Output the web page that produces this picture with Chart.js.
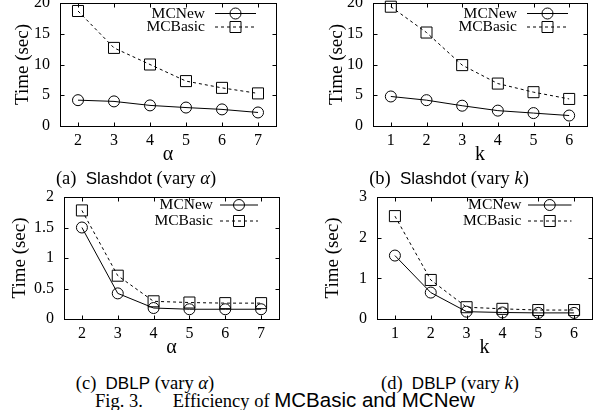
<!DOCTYPE html>
<html><head><meta charset="utf-8">
<script src="https://cdn.jsdelivr.net/npm/chart.js@4"></script>
<style>
html,body{margin:0;padding:0;background:#fff;}
body{width:599px;height:410px;position:relative;overflow:hidden;}
canvas{position:absolute;}
.cap{position:absolute;white-space:nowrap;font-family:"Liberation Serif","Times New Roman",serif;font-size:18.5px;color:#000;transform:translate(-50%,-50%);line-height:1;}
.sans{font-family:"Liberation Sans",Arial,sans-serif;font-size:17px;}
.fig{position:absolute;white-space:nowrap;font-family:"Liberation Serif","Times New Roman",serif;font-size:18.5px;color:#000;transform:translateY(-50%);line-height:1;}
.fig .sans{font-size:20.5px;}
</style></head><body>
<canvas id="ca" width="300" height="170" style="left:0;top:0;width:300px;height:170px"></canvas>
<canvas id="cb" width="299" height="170" style="left:300px;top:0;width:299px;height:170px"></canvas>
<canvas id="cc" width="300" height="180" style="left:0;top:185px;width:300px;height:180px"></canvas>
<canvas id="cd" width="299" height="180" style="left:300px;top:185px;width:299px;height:180px"></canvas>
<div class="cap" style="left:136px;top:178px">(a)&nbsp;&nbsp;<span class="sans">Slashdot</span> (vary <i>α</i>)</div>
<div class="cap" style="left:449px;top:178px">(b)&nbsp;&nbsp;<span class="sans">Slashdot</span> (vary <i>k</i>)</div>
<div class="cap" style="left:145px;top:383px">(c)&nbsp;&nbsp;<span class="sans">DBLP</span> (vary <i>α</i>)</div>
<div class="cap" style="left:450px;top:383px">(d)&nbsp;&nbsp;<span class="sans">DBLP</span> (vary <i>k</i>)</div>
<div class="fig" style="left:95px;top:400px">Fig. 3.<span style="display:inline-block;width:30px"></span>Efficiency of <span class="sans">MCBasic and MCNew</span></div>
<script>
// ---- data ----
const seriesNames = ['MCNew', 'MCBasic'];
const alphaCats = ['2', '3', '4', '5', '6', '7'];
const kCats = ['1', '2', '3', '4', '5', '6'];
const slashAlphaNew = [4.2, 4.0, 3.35, 3.0, 2.7, 2.2];
const slashAlphaBasic = [18.7, 12.7, 10.0, 7.3, 6.2, 5.3];
const slashKNew = [4.8, 4.2, 3.3, 2.5, 2.1, 1.7];
const slashKBasic = [19.4, 15.2, 9.9, 6.9, 5.5, 4.4];
const dblpAlphaNew = [1.5, 0.42, 0.18, 0.16, 0.16, 0.16];
const dblpAlphaBasic = [1.78, 0.71, 0.29, 0.27, 0.26, 0.26];
const dblpKNew = [1.56, 0.65, 0.18, 0.16, 0.15, 0.15];
const dblpKBasic = [2.53, 0.96, 0.29, 0.25, 0.22, 0.22];
const yTicksSlash = [0, 5, 10, 15, 20];
const yTicksDblpAlpha = [0, 0.5, 1, 1.5, 2];
const yTicksDblpK = [0, 0.5, 1, 1.5, 2, 2.5, 3];
const xTitleAlpha = 'α';
const xTitleK = 'k';
const yTitle = 'Time (sec)';

const SERIF = '"Liberation Serif","Times New Roman",serif';
const CIRCLE_R = 5.5, RECT_R = 7.8;

const framePlugin = {
  id: 'frame',
  afterDatasetsDraw(chart, args, o) {
    const {ctx, chartArea: a, scales: {x, y}} = chart;
    ctx.save();
    ctx.strokeStyle = '#000';
    ctx.lineWidth = 1;
    ctx.setLineDash([]);
    const L = Math.round(a.left) + 0.5, R = Math.round(a.right) + 0.5;
    const T = Math.round(a.top) + 0.5, B = Math.round(a.bottom) + 0.5;
    ctx.strokeRect(L, T, R - L, B - T);
    const t = 4;
    ctx.beginPath();
    x.ticks.forEach((tk, i) => {
      const px = Math.round(x.getPixelForTick(i)) + 0.5;
      ctx.moveTo(px, B); ctx.lineTo(px, B - t);
      ctx.moveTo(px, T); ctx.lineTo(px, T + t);
    });
    y.ticks.forEach(tk => {
      const py = Math.round(y.getPixelForValue(tk.value)) + 0.5;
      ctx.moveTo(L, py); ctx.lineTo(L + t, py);
      ctx.moveTo(R, py); ctx.lineTo(R - t, py);
    });
    ctx.stroke();
    // inside legend
    ctx.font = '15.5px ' + SERIF;
    ctx.textAlign = 'right';
    ctx.textBaseline = 'middle';
    chart.data.datasets.forEach((ds, i) => {
      const yy = a.top + o.ys[i];
      ctx.fillStyle = '#000';
      ctx.fillText(ds.label, a.right - o.textRight, yy);
      const x1 = a.right - o.lineL, x2 = a.right - o.lineR;
      ctx.setLineDash(ds.borderDash || []);
      ctx.beginPath(); ctx.moveTo(x1, yy); ctx.lineTo(x2, yy); ctx.stroke();
      ctx.setLineDash([]);
      ctx.fillStyle = 'rgba(0,0,0,0)';
      Chart.helpers.drawPoint(ctx, {pointStyle: ds.pointStyle, radius: ds.pointRadius, borderWidth: 1, rotation: 0}, (x1 + x2) / 2, yy);
    });
    ctx.restore();
  }
};

function makeChart(id, cats, dNew, dBasic, yTicks, xTitle, cfg) {
  const yMin = yTicks[0], yMax = yTicks[yTicks.length - 1];
  return new Chart(document.getElementById(id), {
    type: 'line',
    data: {
      labels: cats,
      datasets: [
        {label: seriesNames[0], data: dNew, borderColor: '#000', borderWidth: 1, pointStyle: 'circle', pointRadius: CIRCLE_R,
          pointBorderColor: '#000', pointBackgroundColor: 'rgba(0,0,0,0)', pointBorderWidth: 1, tension: 0, clip: false},
        {label: seriesNames[1], data: dBasic, borderColor: '#000', borderWidth: 1, borderDash: [3, 3], pointStyle: 'rect', pointRadius: RECT_R,
          pointBorderColor: '#000', pointBackgroundColor: 'rgba(0,0,0,0)', pointBorderWidth: 1, tension: 0, clip: false}
      ]
    },
    options: {
      responsive: false, animation: false, devicePixelRatio: 1,
      layout: {autoPadding: false, padding: {left: 0, top: cfg.padTop, right: cfg.padRight, bottom: 0}},
      plugins: {legend: {display: false}, tooltip: {enabled: false}, frame: cfg.legend},
      scales: {
        x: {
          type: 'category', offset: true,
          grid: {display: false, drawTicks: false}, border: {display: false},
          ticks: {color: '#000', font: {family: SERIF, size: 16, weight: 'normal'}, padding: 5, maxRotation: 0, autoSkip: false},
          title: {display: true, text: xTitle, color: '#000', font: {family: SERIF, size: 20, weight: 'normal'},
            padding: {top: 0, bottom: cfg.xTitleOff - 12}},
          afterFit(s) { s.height = cfg.xH; s.paddingLeft = 0; s.paddingRight = 0; s.paddingTop = 0; s.paddingBottom = 0; }
        },
        y: {
          type: 'linear', min: yMin, max: yMax,
          grid: {display: false, drawTicks: false}, border: {display: false},
          afterBuildTicks(s) { s.ticks = yTicks.map(v => ({value: v})); },
          ticks: {color: '#000', font: {family: SERIF, size: 16, weight: 'normal'}, padding: 10, callback: v => String(v)},
          title: {display: true, text: yTitle, color: '#000', font: {family: SERIF, size: 19, weight: 'normal', lineHeight: 1.2},
            padding: {top: cfg.yTitleX - 11.4, bottom: 0}},
          afterFit(s) { s.width = cfg.yW; s.paddingTop = 0; s.paddingBottom = 0; s.paddingLeft = 0; s.paddingRight = 0; }
        }
      }
    },
    plugins: [framePlugin]
  });
}

makeChart('ca', alphaCats, slashAlphaNew, slashAlphaBasic, yTicksSlash, xTitleAlpha,
  {padTop: 3, padRight: 24, yW: 60, xH: 44, xTitleOff: 15, yTitleX: 23,
   legend: {textRight: 71, lineL: 61, lineR: 20, ys: [10.5, 24]}});
makeChart('cb', kCats, slashKNew, slashKBasic, yTicksSlash, xTitleK,
  {padTop: 3, padRight: 12, yW: 73, xH: 44, xTitleOff: 15, yTitleX: 37.5,
   legend: {textRight: 70, lineL: 60, lineR: 19, ys: [10.5, 24]}});
makeChart('cc', alphaCats, dblpAlphaNew, dblpAlphaBasic, yTicksDblpAlpha, xTitleAlpha,
  {padTop: 12, padRight: 21, yW: 64, xH: 46, xTitleOff: 17, yTitleX: 20,
   legend: {textRight: 66, lineL: 59, lineR: 21, ys: [8, 24]}});
makeChart('cd', kCats, dblpKNew, dblpKBasic, yTicksDblpK, xTitleK,
  {padTop: 12, padRight: 7, yW: 77, xH: 46, xTitleOff: 17, yTitleX: 33,
   legend: {textRight: 70.5, lineL: 64, lineR: 20.5, ys: [8, 24]}});
</script>
</body></html>
